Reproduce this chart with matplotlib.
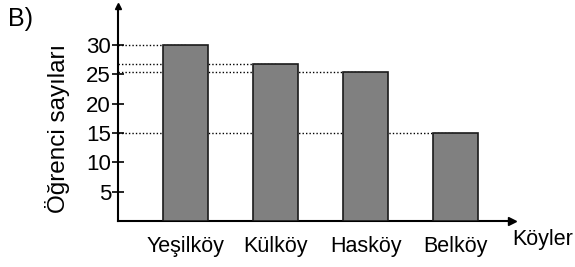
import matplotlib.pyplot as plt

plt.rcParams['font.family'] = ['Liberation Sans', 'DejaVu Sans']

# data
koyler = ['Yeşilköy', 'Külköy', 'Hasköy', 'Belköy']
ogrenci = [30, 26.7, 25.4, 15]
y_ticks = [5, 10, 15, 20, 25, 30]

W, H = 575, 267
fig = plt.figure(figsize=(W / 100, H / 100), dpi=100)

# axes box in pixels: y axis at x=118, x axis at y=221
left, right, bottom, top = 118, 512, 221, 6
ax = fig.add_axes([left / W, (H - bottom) / H, (right - left) / W, (bottom - top) / H])

x = list(range(len(koyler)))
ax.bar(x, ogrenci, width=0.5, color='#808080', edgecolor='#1a1a1a', linewidth=1.2, zorder=3)

# dotted guide lines from the axis to each bar top
x0 = -0.75
for xi, v in zip(x, ogrenci):
    ax.plot([x0, xi], [v, v], linestyle=(0, (1, 1.5)), color='black', linewidth=1.0, zorder=2)

ax.set_xlim(x0, x0 + (right - left) / 90)
ax.set_ylim(0, (bottom - top) / 5.87)

ax.spines['top'].set_visible(False)
ax.spines['right'].set_visible(False)
ax.spines['left'].set_linewidth(1.5)
ax.spines['bottom'].set_linewidth(1.5)

# arrow heads
ax.plot(1, 0, '>k', markersize=6, transform=ax.transAxes, clip_on=False)
ax.plot(0, 1, '^k', markersize=5, transform=ax.transAxes, clip_on=False)

ax.set_yticks(y_ticks)
ax.set_yticklabels([str(t) for t in y_ticks], fontsize=16)
ax.tick_params(axis='y', direction='inout', length=8, width=1.2, pad=1)
ax.set_xticks(x)
ax.set_xticklabels(koyler, fontsize=15.5)
ax.tick_params(axis='x', length=0, pad=11)

fig.text(58 / W, 1 - 128 / H, 'Öğrenci sayıları', fontsize=17.5, rotation=90,
         ha='center', va='center')
fig.text(543 / W, 1 - 239 / H, 'Köyler', fontsize=15.5, ha='center', va='center')
fig.text(8 / W, 1 - 19 / H, 'B)', fontsize=18, ha='left', va='center')

fig.savefig('out.png', dpi=100)
